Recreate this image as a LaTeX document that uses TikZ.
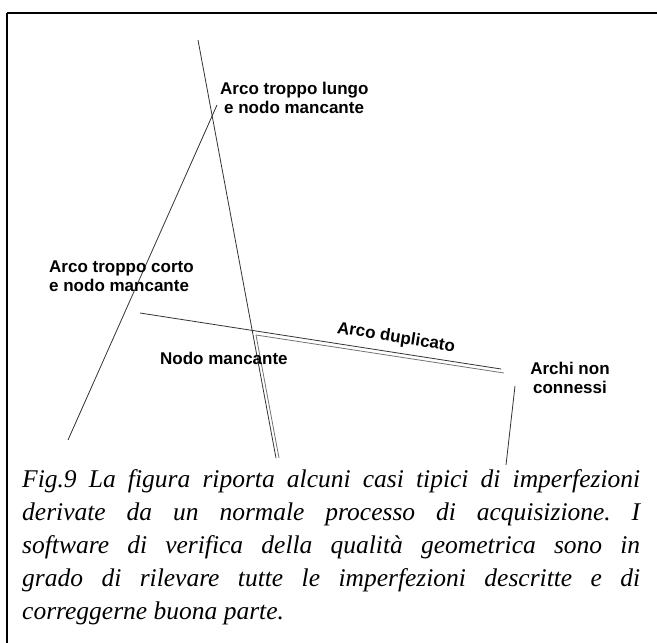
\documentclass[tikz,border=0pt]{standalone}
\usepackage{fontspec}
\setmainfont{Liberation Serif}
\setsansfont{Liberation Sans}
\frenchspacing
\begin{document}
\begin{tikzpicture}[x=1pt,y=-1pt,
  arc/.style={line width=0.8pt, black!80},
  dup/.style={line width=0.8pt, black!55},
  lbl/.style={font=\sffamily\bfseries\fontsize{17}{19}\selectfont, inner sep=0pt, align=left, anchor=west},
  caption/.style={font=\itshape\fontsize{25.5}{33}\selectfont, inner sep=0pt, text width=618pt, align=justify, anchor=north west}
]
\useasboundingbox (0,0) rectangle (657,643);
% frame
\draw[line width=2pt] (6.5,13) -- (657,13);
\draw[line width=1.3pt] (7,13) -- (7,643);

% end points of the arcs
\coordinate (longTop) at (198,40);
\coordinate (longBot) at (276,458);
\coordinate (leftBot) at (68,440);
\coordinate (leftTop) at (217,105);
\coordinate (horA) at (140,313);
\coordinate (horB) at (501,369);
\coordinate (dupA) at (256,335);
\coordinate (dupB) at (504,373);
\coordinate (dupC) at (279,458);
\coordinate (rightTop) at (515,386);
\coordinate (rightBot) at (506,465);

% arcs
\draw[arc] (longTop) -- (longBot);
\draw[arc] (leftBot) -- (leftTop);
\draw[arc] (horA) -- (horB);
\draw[dup] (dupA) -- (dupB);
\draw[dup] (dupA) -- (dupC);
\draw[arc] (rightTop) -- (rightBot);

% labels
\node[lbl] (lungo) at (220,98) {Arco troppo lungo\\\hspace*{4pt}e nodo mancante};
\node[lbl] (corto) at (49,276) {Arco troppo corto\\e nodo mancante};
\node[lbl] (nodo) at (160,358) {Nodo mancante};
\node[lbl, anchor=center, rotate=-9] (dupl) at (396,338) {Arco duplicato};
\node[lbl, anchor=center, align=center] (archi) at (570,378) {Archi non\\connessi};

% caption
\node[caption] (cap) at (22,469) {Fig.9 La figura riporta alcuni casi tipici di imperfezioni\linebreak
derivate da un normale processo di acquisizione. I\linebreak
software di verifica della qualità geometrica sono in\linebreak
grado di rilevare tutte le imperfezioni descritte e di\linebreak
correggerne buona parte.};
\end{tikzpicture}
\end{document}
